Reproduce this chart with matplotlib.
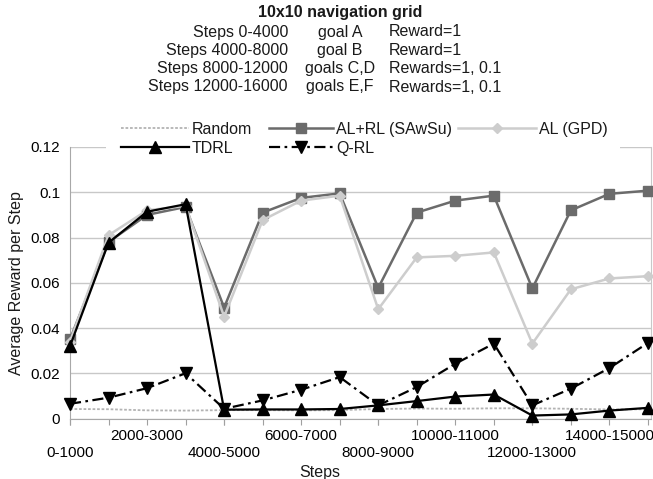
import matplotlib
matplotlib.use('Agg')
import matplotlib.pyplot as plt
from matplotlib.patches import Rectangle

plt.rcParams['font.family'] = ['Liberation Sans', 'DejaVu Sans']
plt.rcParams['text.color'] = '#1a1a1a'

categories = ['0-1000', '1000-2000', '2000-3000', '3000-4000', '4000-5000',
              '5000-6000', '6000-7000', '7000-8000', '8000-9000', '9000-10000',
              '10000-11000', '11000-12000', '12000-13000', '13000-14000',
              '14000-15000', '15000-16000']

random_vals = [0.0042, 0.0041, 0.0036, 0.0035, 0.0037, 0.0037, 0.0036, 0.0037,
               0.0042, 0.0044, 0.0043, 0.0045, 0.0045, 0.0043, 0.0040, 0.0041]
alrl_vals = [0.035, 0.078, 0.090, 0.0935, 0.049, 0.091, 0.0975, 0.0995,
             0.0577, 0.091, 0.0963, 0.0985, 0.0575, 0.092, 0.0993, 0.1007]
algpd_vals = [0.034, 0.081, 0.092, 0.094, 0.045, 0.0877, 0.0963, 0.0985,
              0.0483, 0.0712, 0.0719, 0.0734, 0.0331, 0.0571, 0.0619, 0.0629]
tdrl_vals = [0.032, 0.0777, 0.0914, 0.0947, 0.0039, 0.0040, 0.0040, 0.0042,
             0.0058, 0.0077, 0.0097, 0.0106, 0.0013, 0.0018, 0.0035, 0.0047]
qrl_vals = [0.0065, 0.0092, 0.0134, 0.0200, 0.0043, 0.0080, 0.0127, 0.0183,
            0.0058, 0.0139, 0.0242, 0.0331, 0.0058, 0.0132, 0.0223, 0.0334]

yticks = [0, 0.02, 0.04, 0.06, 0.08, 0.1, 0.12]
ytick_labels = ['0', '0.02', '0.04', '0.06', '0.08', '0.1', '0.12']

title = '10x10 navigation grid'
header_steps = ['Steps 0-4000', 'Steps 4000-8000', 'Steps 8000-12000', 'Steps 12000-16000']
header_goals = ['goal A', 'goal B', 'goals C,D', 'goals E,F']
header_rewards = ['Reward=1', 'Reward=1', 'Rewards=1, 0.1', 'Rewards=1, 0.1']

W, H = 653, 479
fig = plt.figure(figsize=(W / 100, H / 100), dpi=100)
ax = fig.add_axes([70 / W, 1 - 418.5 / H, 581 / W, (418.5 - 147) / H])

x = list(range(len(categories)))
h_random, = ax.plot(x, random_vals, color='#b3b3b3', lw=1.3, ls=(0, (1.5, 1)),
                    label='Random', zorder=2, clip_on=False)
h_alrl, = ax.plot(x, alrl_vals, color='#6b6b6b', lw=1.8, marker='s', ms=7.5,
                  label='AL+RL (SAwSu)', zorder=3, clip_on=False)
h_algpd, = ax.plot(x, algpd_vals, color='#cdcdcd', lw=1.8, marker='D', ms=5.5,
                   label='AL (GPD)', zorder=4, clip_on=False)
h_tdrl, = ax.plot(x, tdrl_vals, color='black', lw=1.6, marker='^', ms=8,
                  label='TDRL', zorder=5, clip_on=False)
h_qrl, = ax.plot(x, qrl_vals, color='black', lw=1.6, ls=(0, (5, 2, 1.2, 2)),
                 marker='v', ms=8, label='Q-RL', zorder=6, clip_on=False)

ax.set_xlim(0, 15.08)
ax.set_ylim(0, 0.12)
ax.set_yticks(yticks, ytick_labels)
ax.yaxis.grid(True, color='#c8c8c8', lw=1)
ax.set_axisbelow(True)
ax.tick_params(axis='y', length=0, pad=7, labelsize=11)

# upper row of category labels on major ticks, lower row on minor ticks
upper = [c if (i % 4 == 2) else '' for i, c in enumerate(categories)]
lower_pos = [i for i in x if i % 4 == 0]
lower = [categories[i] for i in lower_pos]
ax.xaxis.remove_overlapping_locs = False
ax.set_xticks(x, upper)
ax.set_xticks(lower_pos, lower, minor=True)
ax.tick_params(axis='x', which='major', length=4.5, width=0.8, color='#a0a0a0',
               pad=3, labelsize=11)
ax.tick_params(axis='x', which='minor', length=4.5, width=0.8, color='#a0a0a0',
               pad=15.5, labelsize=11)

for s in ['left', 'bottom']:
    ax.spines[s].set_color('#a8a8a8')
ax.spines['top'].set_visible(False)
ax.spines['right'].set_color('#c8c8c8')

fig.text(17 / W, 1 - 283 / H, 'Average Reward per Step', rotation=90,
         ha='center', va='center', fontsize=11.5)
fig.text(320 / W, 1 - 472 / H, 'Steps', ha='center', va='center', fontsize=11.5)

fig.text(340 / W, 1 - 13 / H, title, ha='center', va='center', fontsize=11.5,
         fontweight='bold')
row_y = [32, 50.3, 68.7, 87]
for y, a, b, c in zip(row_y, header_steps, header_goals, header_rewards):
    fig.text(288 / W, 1 - y / H, a, ha='right', va='center', fontsize=11.5)
    fig.text(340 / W, 1 - y / H, b, ha='center', va='center', fontsize=11.5)
    fig.text(389 / W, 1 - y / H, c, ha='left', va='center', fontsize=11.5)

fig.add_artist(Rectangle((106 / W, 1 - 158 / H), 514 / W, 40 / H,
                         transform=fig.transFigure, facecolor='white',
                         edgecolor='none', zorder=1))

common = dict(loc='upper left', frameon=False, handletextpad=0.2, borderpad=0,
              borderaxespad=0, labelspacing=0.22, fontsize=11.5, numpoints=1)
top = 1 - 122 / H
fig.legend(handles=[h_random, h_tdrl], bbox_to_anchor=(121 / W, top),
           handlelength=4.25, **common)
fig.legend(handles=[h_alrl, h_qrl], bbox_to_anchor=(269 / W, top),
           handlelength=4.0, **common)
fig.legend(handles=[h_algpd], bbox_to_anchor=(458 / W, top),
           handlelength=4.9, **common)

fig.savefig('out.png', dpi=100)
